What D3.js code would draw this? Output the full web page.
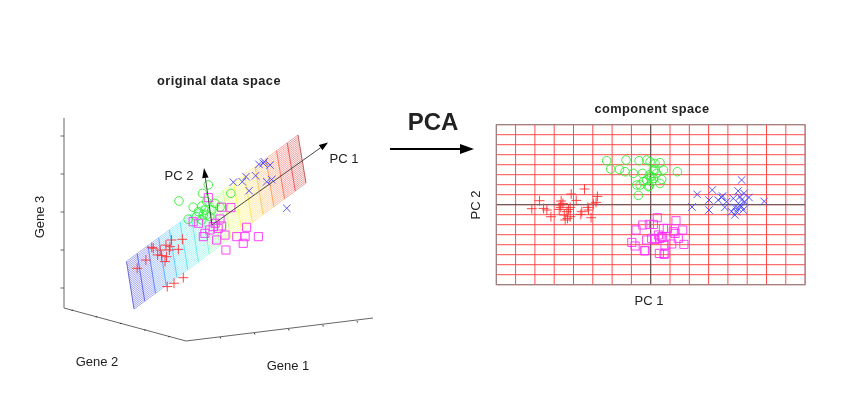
<!DOCTYPE html>
<html><head><meta charset="utf-8">
<script src="https://cdn.jsdelivr.net/npm/d3@7"></script>
<style>
html,body{margin:0;padding:0;background:#fff}
svg{display:block;filter:blur(0.45px)}
text{font-family:"Liberation Sans",Arial,sans-serif;fill:#222}
</style></head><body>
<svg id="c" width="846" height="410"></svg>
<script>
// Component space values: [PC1, PC2]
const pcRed=[[-3.43,1.57],[-4.12,1.07],[-2.76,.83],[-5.76,.4],[-4.64,.37],[-3.86,.43],[-2.83,.23],[-6.16,-.4],[-5.55,-.37],[-4.69,-.03],[-4.17,-.27],[-3.26,-.27],[-2.97,.07],[-5.17,-1.2],[-4.74,-.47],[-4.34,-.7],[-3.62,-.97],[-3.22,-.53],[-3.09,-1.3],[-4.31,-1.37],[-4.43,-1.53],[-4.17,-1.2],[-5.38,-.53],[-4.66,-.27],[-4.26,-.47],[-3.57,-.7],[-4.48,-1.03],[-4.55,.13]];
const pcGreen=[[-2.28,4.4],[-1.28,4.47],[-.6,4.4],[-.21,4.47],[-2.07,3.57],[-1.62,3.53],[-1.33,3.3],[-.9,3.13],[-.43,3.13],[-.72,1.97],[-.64,.93],[-.03,4.3],[.22,4.13],[.14,3.47],[-.03,2.8],[-.21,2.47],[-.12,1.8],[-.38,2.3],[.31,3.13],[.05,2.3],[.48,4.2],[.66,3.47],[1.38,3.3],[.05,2.8],[.57,2.53],[.48,2.13],[-.07,1.87],[-.55,1.97],[.22,3.47],[.14,2.63],[-.07,2.97]];
const pcMagenta=[[-.76,-2.53],[-.41,-2.03],[-.07,-1.97],[-.98,-3.77],[-.81,-4.13],[-.21,-3.53],[-.33,-4.6],[.34,-1.3],[1.31,-1.6],[.14,-1.97],[.66,-2.37],[.86,-2.37],[1.66,-2.53],[1.17,-2.7],[1.26,-2.87],[.22,-3.47],[.57,-3.2],[.74,-4.03],[1.09,-3.93],[1.72,-3.97],[1.43,-3.37],[.45,-4.87],[.69,-4.97],[.74,-4.87],[.48,-3.37],[-.29,-4.6],[.05,-3.37],[.4,-3.03],[.62,-3.27]];
const pcBlue=[[4.71,2.47],[2.41,1.03],[3.19,1.47],[4.53,1.37],[4.83,1.13],[5.09,.73],[5.88,.33],[2.14,-.23],[3.02,.47],[3.02,-.53],[3.5,.47],[3.72,.87],[3.84,-.27],[4.28,.63],[3.93,.3],[4.71,.47],[4.36,-.27],[4.53,-.37],[4.79,-.53],[4.36,-1.03],[4.19,-.7],[4.62,-.03],[4.88,.3],[3.67,.73],[4.45,-.7],[4.71,-.2],[4.62,.8]];
// Original data space values as seen in the view: [horizontal %, vertical %]
const viewRed=[[23.7,32.6],[26.5,36.3],[28.9,41.6],[30.3,38.6],[31.6,38.3],[33,43],[34.8,45.3],[38.3,45.6],[34.3,42.3],[37,41.1],[32.7,35.6],[33.2,37.8],[34.1,40.8],[33.4,24.4],[35.6,25.9],[38.6,28.4],[31.1,40.8],[28.4,42]];
const viewGreen=[[37.2,62.8],[46.7,70],[44.8,66.2],[41.8,60],[43.5,58],[45.6,58.7],[44.6,54.3],[46.2,56.5],[47.8,58.7],[48.9,61.7],[50.5,60],[54,66.2],[47.2,55.8],[40.2,54.6],[46.2,62.5],[44.6,60.5],[42.9,55.8],[45.1,56.5]];
const viewMagenta=[[46.7,64.3],[51,60],[54,59.8],[41.8,53.5],[43.5,52.8],[50.5,54.7],[48.9,52.8],[45.1,46.8],[48.3,51.3],[51,51.6],[52.1,47.5],[58.6,46.8],[62.9,46.8],[58,43.8],[52.4,40.8],[59.1,51],[55.9,46.8],[49.4,45.3],[47.2,49.8],[49.9,50.5],[45.6,48.3]];
const viewBlue=[[54.8,71.2],[57.7,71.4],[58.9,73.7],[62,74.1],[63.1,79.2],[64.5,79.7],[66.7,78.9],[65.6,71.4],[67.2,72.4],[59.9,67.4],[72.1,59.5],[64.8,80.4]];
const gridTicks=d3.range(-8,9);
const geneTicks=[1,2,3,4,5];
const planeHatch=d3.range(0,29);

const svg=d3.select("#c");
const colRed="#ff3030",colGreen="#34ee34",colMag="#ff30ff",colBlue="#4444ff";
const sym=(t,s)=>d3.symbol().type(t).size(s)();
const mPlus=sym(d3.symbolPlus,34),mTimes=sym(d3.symbolTimes,38),mCirc=sym(d3.symbolCircle,58),mSq=sym(d3.symbolSquare2,84);

function pts(g,data,sx,sy,path,col){
  g.append("g").selectAll("path").data(data).join("path")
   .attr("d",path).attr("fill","none").attr("stroke",col).attr("stroke-width",.9)
   .attr("transform",d=>`translate(${sx(d[0])},${sy(d[1])})`);
}
function arrow(g,x1,y1,x2,y2,hl,hw,sw,col){
  const a=Math.atan2(y2-y1,x2-x1),c=Math.cos(a),s=Math.sin(a);
  const bx=x2-hl*c,by=y2-hl*s;
  g.append("line").attr("x1",x1).attr("y1",y1).attr("x2",bx).attr("y2",by).attr("stroke",col).attr("stroke-width",sw);
  g.append("path").attr("fill","#000").attr("d",d3.line()([[x2,y2],[bx-hw*s,by+hw*c],[bx+hw*s,by-hw*c]])+"Z");
}
function label(x,y,t,o={}){
  const e=svg.append("text").attr("x",x).attr("y",y).attr("text-anchor","middle")
    .attr("font-size",o.size||13).attr("font-weight",o.bold?"bold":"normal")
    .attr("letter-spacing",o.track||0).text(t);
  if(o.rot)e.attr("transform",`rotate(${o.rot} ${x} ${y})`);
}

// ---------- left: 3D view ----------
const left=svg.append("g");
const gene3=d3.scaleLinear().domain([0,5]).range([326,136]);
const g1x=d3.scaleLinear().domain([0,5]).range([186,357]),g1y=d3.scaleLinear().domain([0,5]).range([341,321]);
const g2x=d3.scaleLinear().domain([0,5]).range([194,73]),g2y=d3.scaleLinear().domain([0,5]).range([343,310]);
const axisCol="#666";
left.append("path").attr("fill","none").attr("stroke",axisCol).attr("stroke-width",1)
 .attr("d",d3.line()([[64,118],[64,308],[186,341],[373,318]]));
left.selectAll(".t3").data(geneTicks).join("line").attr("x1",60.5).attr("x2",64).attr("y1",d=>gene3(d)).attr("y2",d=>gene3(d)).attr("stroke","#444").attr("stroke-width",.8);
left.selectAll(".t1").data(geneTicks).join("line").attr("x1",d=>g1x(d)).attr("x2",d=>g1x(d)+.5).attr("y1",d=>g1y(d)).attr("y2",d=>g1y(d)+1.5).attr("stroke","#333").attr("stroke-width",1);
left.selectAll(".t2").data(geneTicks).join("line").attr("x1",d=>g2x(d)).attr("x2",d=>g2x(d)-1.5).attr("y1",d=>g2y(d)).attr("y2",d=>g2y(d)+.5).attr("stroke","#333").attr("stroke-width",1);

// plane spanned by PC1, PC2, coloured by PC1
const lowEdgeX=d3.scaleLinear().domain([-8,8]).range([134,306]),lowEdgeY=d3.scaleLinear().domain([-8,8]).range([309,183]);
const topEdgeX=d3.scaleLinear().domain([-8,8]).range([126.5,298]),topEdgeY=d3.scaleLinear().domain([-8,8]).range([261.5,135]);
const vFrac=d3.scaleLinear().domain([0,28]).range([0,1]);
const proj=(u,f)=>[lowEdgeX(u)+(topEdgeX(u)-lowEdgeX(u))*f,lowEdgeY(u)+(topEdgeY(u)-lowEdgeY(u))*f];
const jet=d3.scaleLinear().domain([-8,-6.4,-3.6,-1.4,0.2,2,4.4,6.6,8])
 .range(["#1010c0","#2030ff","#10d0ff","#30f0d0","#90ff70","#ffff20","#ffa020","#ff1010","#a00000"]);
const plane=left.append("g").attr("fill","none");
d3.range(-8,8).forEach(u=>{
  planeHatch.forEach(h=>plane.append("line")
    .attr("x1",proj(u,vFrac(h))[0]).attr("y1",proj(u,vFrac(h))[1])
    .attr("x2",proj(u+1,vFrac(h))[0]).attr("y2",proj(u+1,vFrac(h))[1])
    .attr("stroke",jet(u+.5)).attr("stroke-width",.55).attr("stroke-opacity",.72));
});
gridTicks.forEach(u=>plane.append("line")
  .attr("x1",proj(u,0)[0]).attr("y1",proj(u,0)[1]).attr("x2",proj(u,1)[0]).attr("y2",proj(u,1)[1])
  .attr("stroke",jet(u)).attr("stroke-width",.8).attr("stroke-opacity",.75));

const vx=d3.scaleLinear().domain([0,100]).range([64,373]),vy=d3.scaleLinear().domain([0,100]).range([341,118]);
pts(left,viewRed,vx,vy,mPlus,colRed);
pts(left,viewGreen,vx,vy,mCirc,colGreen);
pts(left,viewMagenta,vx,vy,mSq,colMag);
pts(left,viewBlue,vx,vy,mTimes,colBlue);
arrow(left,212,225,328,142.5,9,3.2,.9,"#333");
arrow(left,212,225,204,168,10,3.2,.9,"#333");

label(219,85,"original data space",{bold:true,size:12.8,track:.42});
label(179,179.5,"PC 2");
label(344,162.5,"PC 1");
label(44,217,"Gene 3",{rot:-90});
label(97,365.5,"Gene 2");
label(288,369.5,"Gene 1");

// ---------- middle ----------
label(433,130,"PCA",{size:24,bold:true});
arrow(svg,390,149,474,149,14,5,2,"#000");

// ---------- right: component space ----------
const right=svg.append("g");
const px=d3.scaleLinear().domain([-8,8]).range([496.3,805.1]);
const py=d3.scaleLinear().domain([-8,8]).range([284.7,124.7]);
right.selectAll(".v").data(gridTicks).join("line").attr("x1",px).attr("x2",px).attr("y1",py(-8)).attr("y2",py(8)).attr("stroke","#ff4a4a").attr("stroke-width",1);
right.selectAll(".h").data(gridTicks).join("line").attr("y1",py).attr("y2",py).attr("x1",px(-8)).attr("x2",px(8)).attr("stroke","#ff4a4a").attr("stroke-width",1);
right.append("line").attr("x1",px(0)).attr("x2",px(0)).attr("y1",py(-8)).attr("y2",py(8)).attr("stroke","#555").attr("stroke-width",1);
right.append("line").attr("y1",py(0)).attr("y2",py(0)).attr("x1",px(-8)).attr("x2",px(8)).attr("stroke","#555").attr("stroke-width",1);
right.append("rect").attr("x",px(-8)).attr("y",py(8)).attr("width",px(8)-px(-8)).attr("height",py(-8)-py(8)).attr("fill","none").attr("stroke","#888").attr("stroke-width",1);
pts(right,pcRed,px,py,mPlus,colRed);
pts(right,pcGreen,px,py,mCirc,colGreen);
pts(right,pcMagenta,px,py,mSq,colMag);
pts(right,pcBlue,px,py,mTimes,colBlue);
label(652,113,"component space",{bold:true,size:12.8,track:.42});
label(649,304.5,"PC 1");
label(480,205,"PC 2",{rot:-90});
</script>
</body></html>
